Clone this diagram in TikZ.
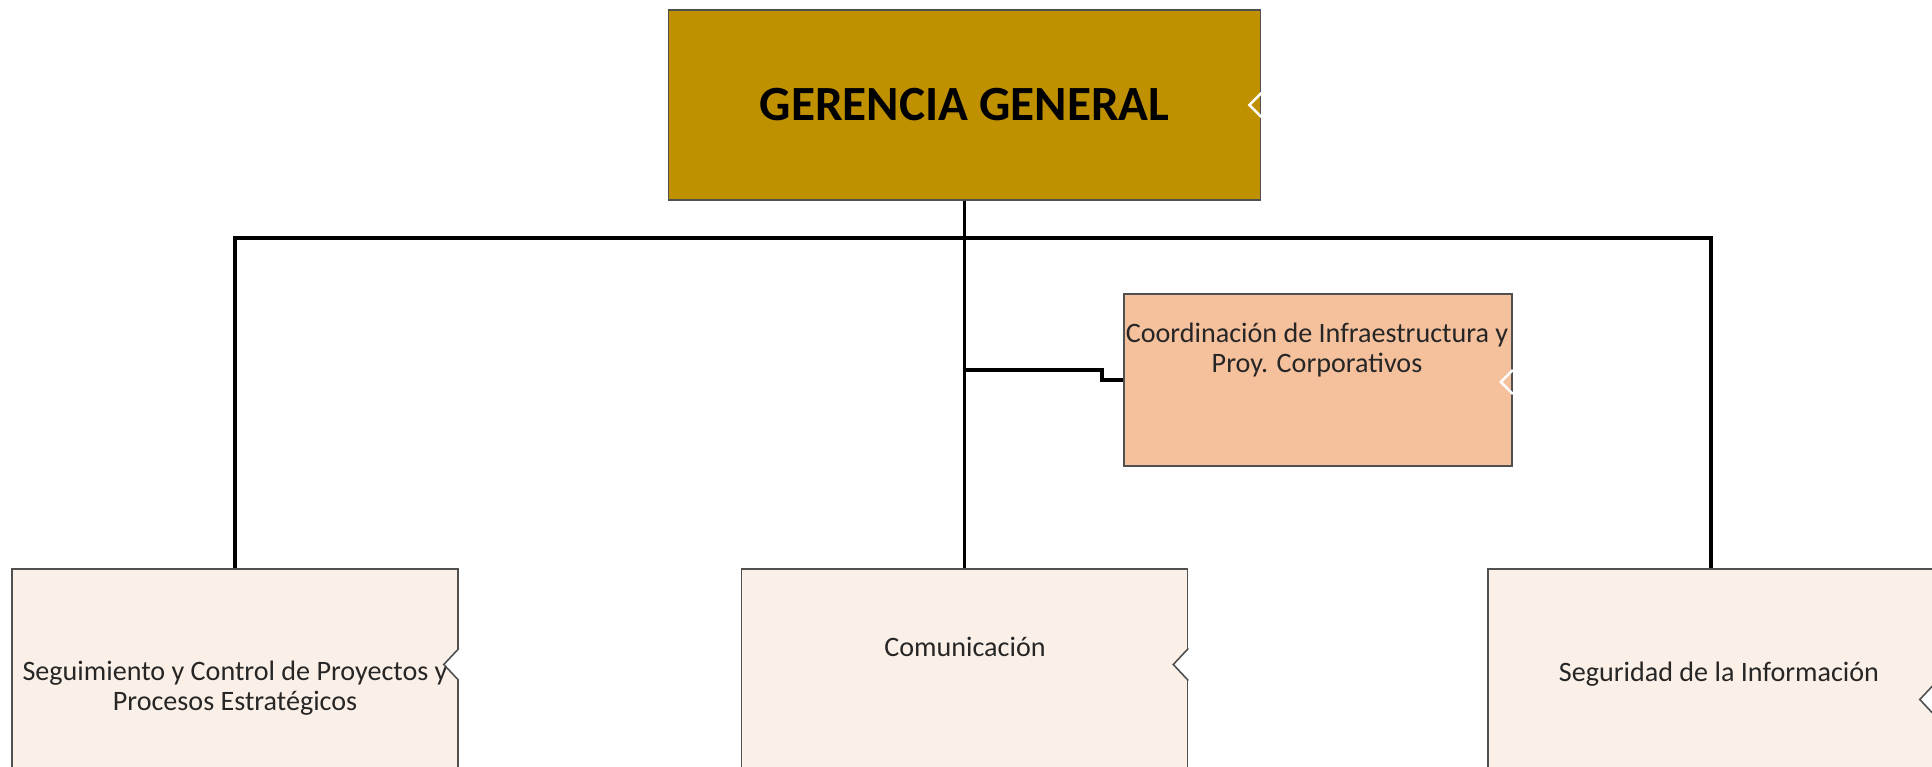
\documentclass[tikz,border=0pt]{standalone}
\usepackage{fontspec}
\setmainfont{Carlito}

\definecolor{gold}{HTML}{BF9000}
\definecolor{peach}{HTML}{F5C09C}
\definecolor{cream}{HTML}{FBF0E7}
\definecolor{edge}{HTML}{505050}
\definecolor{ink}{HTML}{262626}

\tikzstyle{line}=[-, line width=2.2pt]
\tikzstyle{unit}=[rectangle, draw=edge, line width=0.9pt]
\tikzstyle{unittext}=[text=ink, align=center, font=\fontsize{16}{17}\selectfont]
\tikzstyle{notch}=[draw=edge, line width=0.9pt]

\begin{document}
\begin{tikzpicture}
    \useasboundingbox (0, 0) rectangle (38.64, 15.32);
    \fill[white] (0, 0) rectangle (38.64, 15.32);

    \node (gerencia) at (19.29, 13.22) [unit, fill=gold, minimum width=11.84cm, minimum height=3.8cm, font=\fontsize{28}{30}\selectfont\bfseries, text=black] {GERENCIA GENERAL};

    \node (coordinacion) at (26.36, 7.72) [unit, fill=peach, minimum width=7.76cm, minimum height=3.44cm] {};
    \node (coordinacionText) at (26.34, 8.32) [unittext] {Coordinación de Infraestructura y\\Proy. Corporativos};

    \node (seguimiento) at (4.70, 1.85) [unit, fill=cream, minimum width=8.92cm, minimum height=4.18cm] {};
    \node (seguimientoText) at (4.70, 1.55) [unittext] {Seguimiento y Control de Proyectos y\\Procesos Estratégicos};

    \node (comunicacion) at (19.29, 1.85) [unit, fill=cream, minimum width=8.92cm, minimum height=4.18cm] {};
    \node (comunicacionText) at (19.30, 2.38) [unittext] {Comunicación};

    \node (seguridad) at (34.22, 1.85) [unit, fill=cream, minimum width=8.92cm, minimum height=4.18cm] {};
    \node (seguridadText) at (34.38, 1.84) [unittext] {Seguridad de la Información};

    % notches on the right side
    \draw[white, line width=1.4pt] ([yshift=0.24cm]gerencia.east) -- ++(-0.24, -0.24) -- ++(0.24, -0.24);
    \draw[white, line width=1.4pt] ([yshift=0.2cm]coordinacion.east) -- ++(-0.24, -0.24) -- ++(0.24, -0.24);
    \fill[white] ([yshift=0.5cm]seguimiento.east) -- ++(-0.3, -0.32) -- ++(0.3, -0.32) -- ++(0.05, 0) -- ++(0, 0.64) -- cycle;
    \draw[notch] ([yshift=0.5cm]seguimiento.east) -- ++(-0.3, -0.32) -- ++(0.3, -0.32);
    \fill[white] ([yshift=0.5cm]comunicacion.east) -- ++(-0.3, -0.32) -- ++(0.3, -0.32) -- ++(0.05, 0) -- ++(0, 0.64) -- cycle;
    \draw[notch] ([yshift=0.5cm]comunicacion.east) -- ++(-0.3, -0.32) -- ++(0.3, -0.32);
    \fill[white] ([yshift=-0.2cm]seguridad.east) -- ++(-0.3, -0.32) -- ++(0.3, -0.32) -- ++(0.05, 0) -- ++(0, 0.64) -- cycle;
    \draw[notch] ([yshift=-0.2cm]seguridad.east) -- ++(-0.3, -0.32) -- ++(0.3, -0.32);

    % connectors
    \coordinate (bus) at (19.29, 10.56);
    \coordinate (tap) at (19.29, 7.92);
    \draw[line] (gerencia.south) -- (comunicacion.north);
    \draw[line] (bus) -| (seguimiento.north);
    \draw[line] (bus) -| (seguridad.north);
    \draw[line] (tap) -- ++(2.75, 0) |- (coordinacion.west);
\end{tikzpicture}
\end{document}
